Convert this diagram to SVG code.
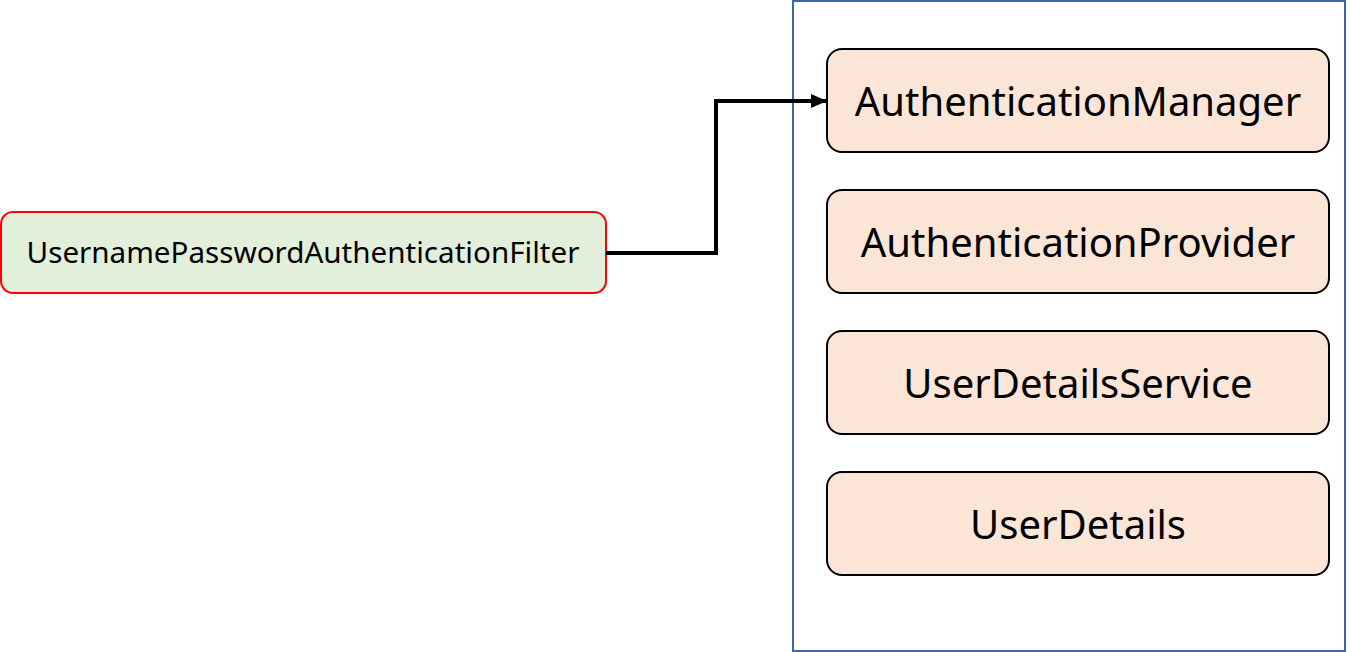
<svg xmlns="http://www.w3.org/2000/svg" width="1350" height="652" viewBox="0 0 1350 652">
<defs>
<style>
.box{fill:#FBE5D6;stroke:#000;stroke-width:2}
.big{font-family:"Noto Sans","Open Sans",sans-serif;font-size:40px;fill:#000;text-anchor:middle}
.small{font-family:"Noto Sans","Open Sans",sans-serif;font-size:29.6px;fill:#000;text-anchor:middle}
</style>
<marker id="arrow" markerWidth="16" markerHeight="16" refX="15" refY="8" orient="auto" markerUnits="userSpaceOnUse" viewBox="0 0 16 16">
<path d="M0,1 L16,8 L0,15 z" fill="#000"/>
</marker>
</defs>
<rect width="1350" height="652" fill="#fff"/>
<g id="container">
<rect x="793" y="1" width="552" height="650" fill="none" stroke="#41659E" stroke-width="2"/>
</g>
<g id="filter">
<rect x="1" y="212" width="605" height="81" rx="12" fill="#E2EFDA" stroke="#FF0000" stroke-width="2"/>
<text class="small" x="303" y="263">UsernamePasswordAuthenticationFilter</text>
</g>
<g id="manager">
<rect class="box" x="827" y="49" width="502" height="103" rx="15"/>
<text class="big" x="1078" y="116">AuthenticationManager</text>
</g>
<g id="provider">
<rect class="box" x="827" y="190" width="502" height="103" rx="15"/>
<text class="big" x="1078" y="257">AuthenticationProvider</text>
</g>
<g id="service">
<rect class="box" x="827" y="331" width="502" height="103" rx="15"/>
<text class="big" x="1078" y="398">UserDetailsService</text>
</g>
<g id="details">
<rect class="box" x="827" y="472" width="502" height="103" rx="15"/>
<text class="big" x="1078" y="539">UserDetails</text>
</g>
<g id="connectors">
<polyline points="606,253 716,253 716,101 826,101" fill="none" stroke="#000" stroke-width="4" marker-end="url(#arrow)"/>
</g>
</svg>
